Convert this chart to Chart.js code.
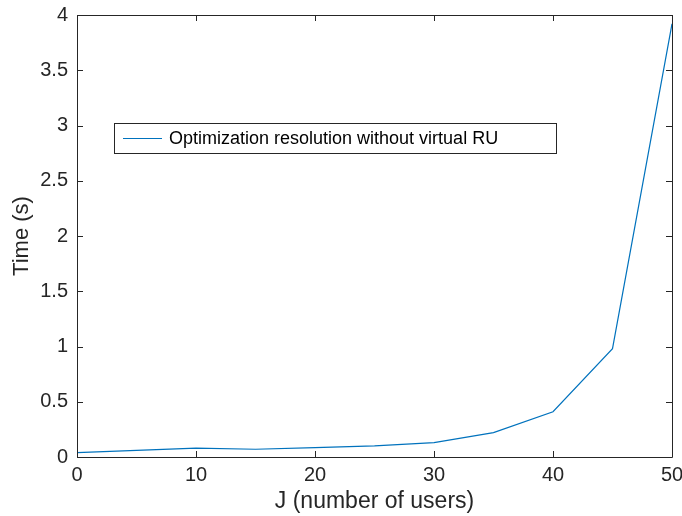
<!DOCTYPE html>
<html>
<head>
<meta charset="utf-8">
<script src="https://cdn.jsdelivr.net/npm/chart.js@4/dist/chart.umd.min.js"></script>
<style>
  html, body { margin: 0; padding: 0; background: #fff; }
  #wrap { width: 682px; height: 516px; }
</style>
</head>
<body>
<div id="wrap"><canvas id="c" width="682" height="516"></canvas></div>
<script>
// Solver run time versus the number of users
const users = [0, 5, 10, 15, 20, 25, 30, 35, 40, 45, 50];
const timeSec = [0.04, 0.06, 0.08, 0.07, 0.085, 0.10, 0.13, 0.22, 0.41, 0.98, 3.92];
const xTickValues = [0, 10, 20, 30, 40, 50];
const yTickValues = [0, 0.5, 1, 1.5, 2, 2.5, 3, 3.5, 4];
const seriesName = 'Optimization resolution without virtual RU';
const xTitle = 'J (number of users)';
const yTitle = 'Time (s)';

const AXIS = '#262626';
const LINE = '#0072BD';
const FONT = 'Liberation Sans, Arial, Helvetica, sans-serif';

// Boxed axes with inward ticks on all four sides, plus an inset legend
const frame = {
  id: 'frame',
  afterDatasetsDraw(chart) {
    const { ctx, chartArea: a, scales } = chart;
    const t = 6;
    ctx.save();
    ctx.strokeStyle = AXIS;
    ctx.lineWidth = 1;
    ctx.beginPath();
    ctx.rect(Math.round(a.left) + 0.5, Math.round(a.top) + 0.5,
             Math.round(a.right - a.left), Math.round(a.bottom - a.top));
    xTickValues.forEach(v => {
      const x = Math.round(scales.x.getPixelForValue(v)) + 0.5;
      ctx.moveTo(x, a.bottom); ctx.lineTo(x, a.bottom - t);
      ctx.moveTo(x, a.top); ctx.lineTo(x, a.top + t);
    });
    yTickValues.forEach(v => {
      const y = Math.round(scales.y.getPixelForValue(v)) + 0.5;
      ctx.moveTo(a.left, y); ctx.lineTo(a.left + t, y);
      ctx.moveTo(a.right, y); ctx.lineTo(a.right - t, y);
    });
    ctx.stroke();

    // legend
    const bx = 114.5, by = 123.5, bw = 442, bh = 30;
    ctx.fillStyle = '#fff';
    ctx.fillRect(bx, by, bw, bh);
    ctx.strokeStyle = '#262626';
    ctx.strokeRect(bx, by, bw, bh);
    const my = by + bh / 2;
    ctx.strokeStyle = LINE;
    ctx.beginPath();
    ctx.moveTo(123, my); ctx.lineTo(162, my);
    ctx.stroke();
    ctx.fillStyle = '#000';
    ctx.font = '18px ' + FONT;
    ctx.textBaseline = 'middle';
    ctx.textAlign = 'left';
    ctx.fillText(seriesName, 169, my + 1);
    ctx.restore();
  }
};

// fixed axis sizes, no extra room for overhanging end labels
const clearOverhang = s => { s.paddingLeft = 0; s.paddingRight = 0; s.paddingTop = 0; s.paddingBottom = 0; };

new Chart(document.getElementById('c'), {
  type: 'line',
  data: {
    datasets: [{
      label: seriesName,
      data: users.map((u, i) => ({ x: u, y: timeSec[i] })),
      borderColor: LINE,
      borderWidth: 1.2,
      pointRadius: 0,
      tension: 0,
      fill: false
    }]
  },
  options: {
    responsive: false,
    animation: false,
    devicePixelRatio: 1,
    layout: { padding: { top: 15, right: 10, left: 0, bottom: 0 } },
    plugins: { legend: { display: false }, tooltip: { enabled: false } },
    scales: {
      x: {
        type: 'linear', min: 0, max: 50,
        afterBuildTicks: s => { s.ticks = xTickValues.map(v => ({ value: v })); },
        afterFit: s => { s.height = 59; clearOverhang(s); },
        grid: { display: false, drawTicks: false },
        border: { display: false },
        ticks: { color: AXIS, font: { family: FONT, size: 20 }, padding: 6, maxRotation: 0,
                 callback: v => String(v) },
        title: { display: true, text: xTitle, color: AXIS,
                 font: { family: FONT, size: 23 }, padding: { top: 0, bottom: 1 } }
      },
      y: {
        type: 'linear', min: 0, max: 4,
        afterBuildTicks: s => { s.ticks = yTickValues.map(v => ({ value: v })); },
        afterFit: s => { s.width = 77; clearOverhang(s); },
        grid: { display: false, drawTicks: false },
        border: { display: false },
        ticks: { color: AXIS, font: { family: FONT, size: 20 }, padding: 9,
                 callback: v => String(v) },
        title: { display: true, text: yTitle, color: AXIS,
                 font: { family: FONT, size: 22 }, padding: { top: 9, bottom: 0 } }
      }
    }
  },
  plugins: [frame]
});
</script>
</body>
</html>
